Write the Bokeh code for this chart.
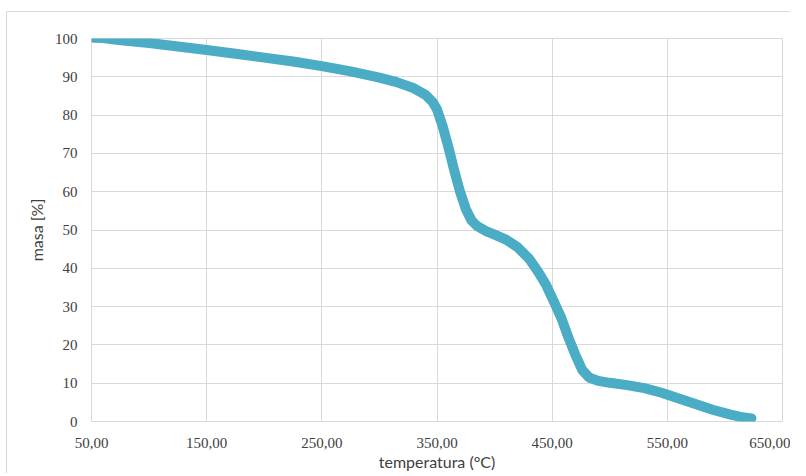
from bokeh.plotting import figure
from bokeh.models import FixedTicker
from bokeh.embed import file_html
from bokeh.resources import INLINE

# Data
temperature = [52, 60, 70, 80, 100, 125, 150, 175, 200, 225, 250, 275, 300, 315, 330,
               340, 346, 350, 355, 360, 365, 370, 375, 380, 385, 392, 400, 410, 420,
               430, 438, 445, 452, 458, 464, 470, 476, 482, 490, 500, 515, 530, 545,
               560, 575, 590, 605, 615, 623]
mass = [100.2, 100.1, 99.7, 99.4, 98.8, 97.9, 97.0, 96.0, 95.0, 94.0, 92.8, 91.4, 89.8,
        88.6, 87.0, 85.3, 83.5, 81.5, 77.0, 71.5, 65.5, 60.0, 55.5, 52.5, 51.0, 49.8,
        48.8, 47.5, 45.5, 42.5, 39.0, 35.5, 31.0, 27.0, 22.0, 17.5, 13.5, 11.5, 10.6,
        10.1, 9.5, 8.7, 7.5, 6.0, 4.5, 3.0, 1.8, 1.1, 0.8]
x_ticks = [50, 150, 250, 350, 450, 550, 650]
x_tick_labels = ["50,00", "150,00", "250,00", "350,00", "450,00", "550,00", "650,00"]
y_ticks = [0, 10, 20, 30, 40, 50, 60, 70, 80, 90, 100]

p = figure(frame_width=691, frame_height=383, x_range=(50, 650), y_range=(0, 100),
           output_backend="svg", toolbar_location=None,
           min_border_left=84, min_border_right=8, min_border_top=26,
           min_border_bottom=30,
           styles={"border-left": "1px solid #d9d9d9", "border-top": "1px solid #d9d9d9",
                   "margin-left": "6px", "margin-top": "11px"})
p.background_fill_color = "white"
p.border_fill_color = "white"
p.outline_line_color = "#d9d9d9"
p.outline_line_width = 1

p.line(temperature, mass, line_width=10, line_color="#4BACC6",
       line_cap="round", line_join="round")

p.xaxis.ticker = FixedTicker(ticks=x_ticks)
p.xaxis.major_label_overrides = {t: l for t, l in zip(x_ticks, x_tick_labels)}
p.yaxis.ticker = FixedTicker(ticks=y_ticks)

for ax in (p.xaxis, p.yaxis):
    ax.axis_line_color = None
    ax.major_tick_line_color = None
    ax.minor_tick_line_color = None
    ax.major_label_text_font = "Liberation Serif"
    ax.major_label_text_font_size = "15px"
    ax.major_label_text_color = "#404040"
    ax.axis_label_text_font = "Lato"
    ax.axis_label_text_font_style = "normal"
    ax.axis_label_text_font_size = "16px"
    ax.axis_label_text_color = "#404040"

p.xaxis.axis_label = "temperatura (°C)"
p.yaxis.axis_label = "masa [%]"
p.xaxis.major_label_standoff = 10
p.yaxis.major_label_standoff = 8
p.xaxis.axis_label_standoff = 1
p.yaxis.axis_label_standoff = 6

p.xgrid.ticker = FixedTicker(ticks=x_ticks)
p.ygrid.ticker = FixedTicker(ticks=y_ticks)
p.xgrid.grid_line_color = "#d9d9d9"
p.ygrid.grid_line_color = "#d9d9d9"

open("out.html", "w").write(file_html(p, INLINE))
